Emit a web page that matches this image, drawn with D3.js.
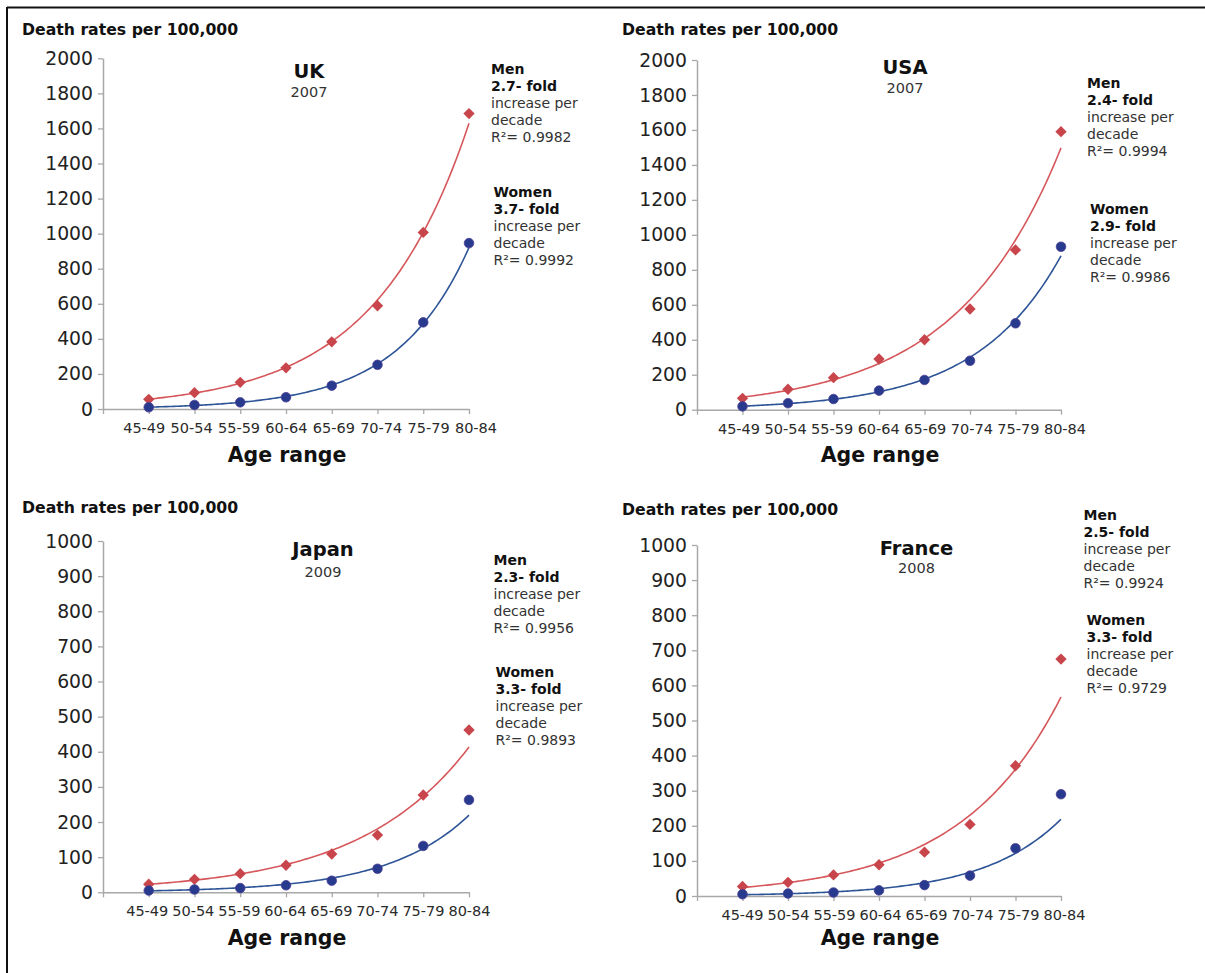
<!DOCTYPE html>
<html>
<head>
<meta charset="utf-8">
<script src="https://cdn.jsdelivr.net/npm/d3@7"></script>
<style>
  html, body { margin: 0; padding: 0; background: #fff; }
  svg { display: block; font-family: "DejaVu Sans", Verdana, sans-serif; }
</style>
</head>
<body>
<svg id="chart" width="1205" height="973"></svg>
<script>
// Age groups on the x axis
const ageGroups = ["45-49", "50-54", "55-59", "60-64", "65-69", "70-74", "75-79", "80-84"];

// Death rates per 100,000 by age group
const ukMen      = [55, 93, 152, 235, 383, 589, 1007, 1685];
const ukWomen    = [10, 23, 38, 67, 133, 252, 494, 946];
const usaMen     = [65, 117, 183, 290, 400, 576, 914, 1590];
const usaWomen   = [19, 37, 61, 109, 170, 280, 494, 932];
const japanMen   = [23, 37, 53, 77, 109, 163, 277, 462];
const japanWomen = [5, 8, 12, 20, 33, 67, 132, 263];
const franceMen  = [27, 39, 60, 89, 125, 204, 371, 675];
const franceWomen= [5, 7, 10, 16, 31, 58, 136, 290];

// Y axis tick values
const ticks2000 = [0, 200, 400, 600, 800, 1000, 1200, 1400, 1600, 1800, 2000];
const ticks1000 = [0, 100, 200, 300, 400, 500, 600, 700, 800, 900, 1000];

// Panel headings
const countries = ["UK", "USA", "Japan", "France"];
const years = ["2007", "2007", "2009", "2008"];

// Trend-line annotations
const menFold   = ["2.7- fold", "2.4- fold", "2.3- fold", "2.5- fold"];
const menR2     = ["R\u00B2= 0.9982", "R\u00B2= 0.9994", "R\u00B2= 0.9956", "R\u00B2= 0.9924"];
const womenFold = ["3.7- fold", "2.9- fold", "3.3- fold", "3.3- fold"];
const womenR2   = ["R\u00B2= 0.9992", "R\u00B2= 0.9986", "R\u00B2= 0.9893", "R\u00B2= 0.9729"];

const menSeries   = [ukMen, usaMen, japanMen, franceMen];
const womenSeries = [ukWomen, usaWomen, japanWomen, franceWomen];
const tickSets    = [ticks2000, ticks2000, ticks1000, ticks1000];

// Layout of each panel (pixel geometry)
const layout = [
  { x0: 103, x8: 469,  y0: 409,   yTop: 58.3, labelShift: [-4.5, 7],  titleX: 309,  titleY: 78,  yearY: 96.5,
    yLabelX: 22,  yLabelY: 35,  ageY: 462, menX: 491,  menY: 74,  womenX: 493.5, womenY: 196.5 },
  { x0: 697, x8: 1061, y0: 409.7, yTop: 60,   labelShift: [-3.5, 4],  titleX: 905,  titleY: 74,  yearY: 92.5,
    yLabelX: 622, yLabelY: 35,  ageY: 462, menX: 1087, menY: 87.5, womenX: 1090, womenY: 214 },
  { x0: 103, x8: 469,  y0: 892.3, yTop: 541,  labelShift: [-1.5, 0.5], titleX: 323,  titleY: 556, yearY: 577,
    yLabelX: 22,  yLabelY: 513, ageY: 945, menX: 493.5, menY: 564.5, womenX: 495.5, womenY: 676.5 },
  { x0: 697, x8: 1061, y0: 896,   yTop: 545,  labelShift: [0, 3.5],   titleX: 916.5, titleY: 555, yearY: 573,
    yLabelX: 622, yLabelY: 515, ageY: 945, menX: 1083.5, menY: 519.5, womenX: 1086.5, womenY: 624.5 }
];

const RED_MARK = "#c8464b", RED_LINE = "#d6575b";
const BLUE_MARK = "#283a8e", BLUE_LINE = "#2d5496";
const AXIS = "#a8a8a8";

const svg = d3.select("#chart");

// Page frame (top and left rules)
svg.append("line").attr("x1", 7).attr("x2", 1205).attr("y1", 7.5).attr("y2", 7.5)
  .attr("stroke", "#111").attr("stroke-width", 2);
svg.append("line").attr("x1", 7).attr("x2", 7).attr("y1", 7).attr("y2", 973)
  .attr("stroke", "#111").attr("stroke-width", 2);

// Exponential least-squares fit: y = a * exp(b * x), x = 1..n
function expFit(values) {
  const xs = values.map((_, i) => i + 1);
  const ls = values.map(v => Math.log(v));
  const mx = d3.mean(xs), my = d3.mean(ls);
  const b = d3.sum(xs, (x, i) => (x - mx) * (ls[i] - my)) / d3.sum(xs, x => (x - mx) ** 2);
  const a = Math.exp(my - b * mx);
  return x => a * Math.exp(b * x);
}

countries.forEach((country, p) => {
  const L = layout[p];
  const ticks = tickSets[p];
  const yMax = ticks[ticks.length - 1];
  const g = svg.append("g");

  const x = d3.scaleLinear().domain([0, ageGroups.length]).range([L.x0, L.x8]);
  const xLabel = d3.scaleLinear().domain([1, ageGroups.length])
    .range([x(1) + L.labelShift[0], x(ageGroups.length) + L.labelShift[1]]);
  const y = d3.scaleLinear().domain([0, yMax]).range([L.y0, L.yTop]);

  // Y axis
  const yAxis = g.append("g").attr("transform", `translate(${L.x0},0)`)
    .call(d3.axisLeft(y).tickValues(ticks).tickFormat(d3.format("d")).tickSize(5).tickSizeOuter(0).tickPadding(5));
  yAxis.select(".domain").attr("stroke", AXIS).attr("stroke-width", 1.5);
  yAxis.selectAll(".tick line").attr("stroke", AXIS).attr("stroke-width", 1.3);
  yAxis.selectAll(".tick text").attr("font-size", 18.8).attr("fill", "#222")
    .attr("font-family", "DejaVu Sans, Verdana, sans-serif");

  // X axis (tick marks only; labels placed below)
  const xAxis = g.append("g").attr("transform", `translate(0,${L.y0})`)
    .call(d3.axisBottom(x).tickValues(d3.range(0, ageGroups.length + 1)).tickFormat("").tickSize(5).tickSizeOuter(0));
  xAxis.select(".domain").attr("stroke", AXIS).attr("stroke-width", 1.5);
  xAxis.selectAll(".tick line").attr("stroke", AXIS).attr("stroke-width", 1.3);

  g.selectAll("text.age").data(ageGroups).join("text")
    .attr("class", "age")
    .attr("x", (d, i) => xLabel(i + 1))
    .attr("y", L.y0 + 24)
    .attr("text-anchor", "middle")
    .attr("font-size", 14.5)
    .attr("fill", "#2a2a2a")
    .text(d => d);

  // Axis titles
  g.append("text").attr("x", L.yLabelX).attr("y", L.yLabelY)
    .attr("font-size", 15.7).attr("font-weight", "bold").attr("fill", "#111")
    .text("Death rates per 100,000");
  g.append("text").attr("x", (L.x0 + L.x8) / 2 + 1).attr("y", L.ageY)
    .attr("text-anchor", "middle").attr("font-size", 20.5).attr("font-weight", "bold").attr("fill", "#111")
    .text("Age range");

  // Panel title
  g.append("text").attr("x", L.titleX).attr("y", L.titleY).attr("text-anchor", "middle")
    .attr("font-size", 19.5).attr("font-weight", "bold").attr("fill", "#111").text(country);
  g.append("text").attr("x", L.titleX).attr("y", L.yearY).attr("text-anchor", "middle")
    .attr("font-size", 14.5).attr("fill", "#333").text(years[p]);

  // Trend lines
  const fine = d3.range(1, ageGroups.length + 0.001, 0.05);
  const line = d3.line().x(d => x(d[0])).y(d => y(d[1])).curve(d3.curveLinear);
  [[menSeries[p], RED_LINE], [womenSeries[p], BLUE_LINE]].forEach(([vals, color]) => {
    const f = expFit(vals);
    g.append("path").datum(fine.map(t => [t, f(t)]))
      .attr("d", line).attr("fill", "none").attr("stroke", color).attr("stroke-width", 1.6);
  });

  // Data markers
  const diamond = d3.symbol().type(d3.symbolSquare).size(64);
  g.selectAll("path.men").data(menSeries[p]).join("path")
    .attr("class", "men")
    .attr("d", diamond)
    .attr("transform", (d, i) => `translate(${x(i + 1)},${y(d)}) rotate(45)`)
    .attr("fill", RED_MARK);
  g.selectAll("circle.women").data(womenSeries[p]).join("circle")
    .attr("class", "women")
    .attr("cx", (d, i) => x(i + 1)).attr("cy", d => y(d)).attr("r", 4.8)
    .attr("fill", BLUE_MARK).attr("stroke", "#4b3f94").attr("stroke-width", 0.8);

  // Annotations
  const note = (x0, y0, head, fold, r2) => {
    const lines = [[head, true], [fold, true], ["increase per", false], ["decade", false], [r2, false]];
    lines.forEach(([t, bold], k) => {
      g.append("text").attr("x", x0).attr("y", y0 + k * 17.1)
        .attr("font-size", 14).attr("font-weight", bold ? "bold" : "normal")
        .attr("fill", bold ? "#111" : "#333").text(t);
    });
  };
  note(L.menX, L.menY, "Men", menFold[p], menR2[p]);
  note(L.womenX, L.womenY, "Women", womenFold[p], womenR2[p]);
});
</script>
</body>
</html>
